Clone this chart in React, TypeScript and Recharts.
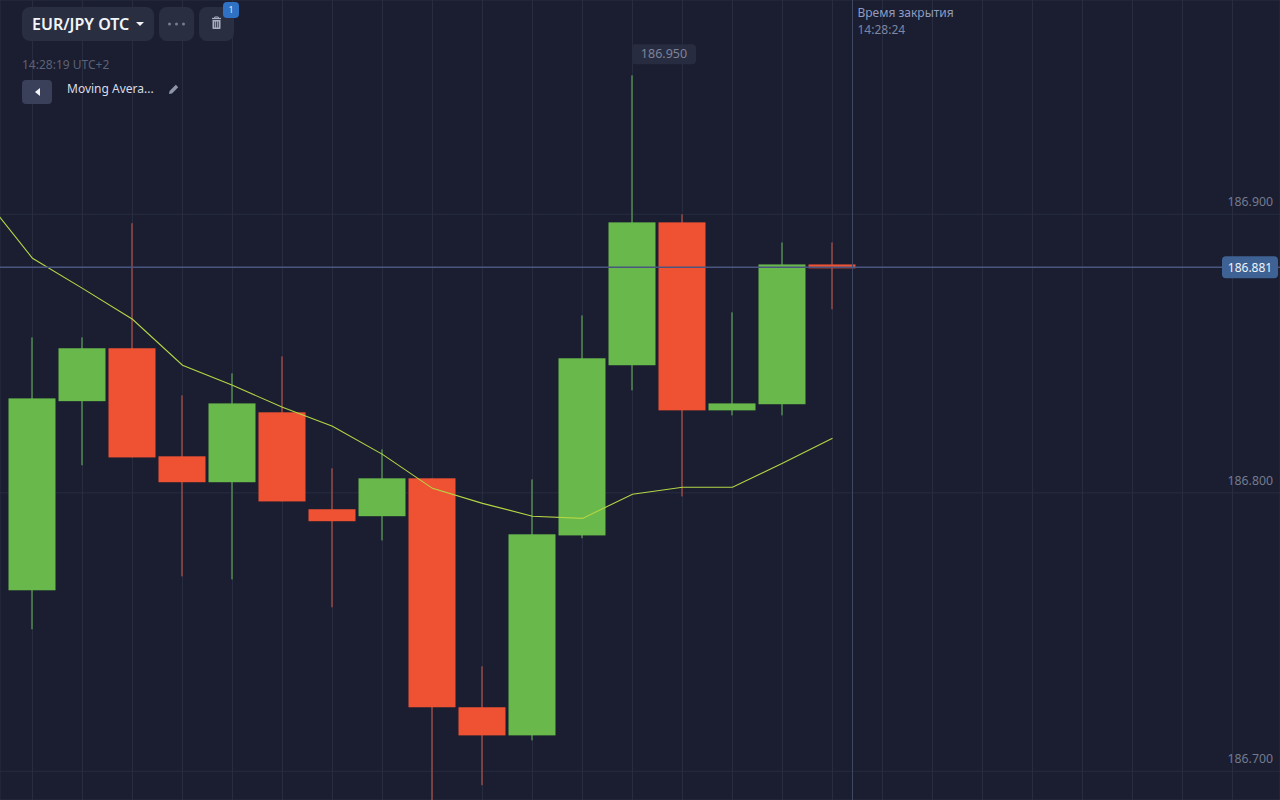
import React from "react";
import { ComposedChart, Bar, Line, XAxis, YAxis, CartesianGrid, ReferenceLine, ReferenceDot } from "recharts";

const indexes = [-1, 0, 1, 2, 3, 4, 5, 6, 7, 8, 9, 10, 11, 12, 13, 14, 15, 16];
const opens = [null, 186.765, 186.8329, 186.8519, 186.8131, 186.8038, 186.8289, 186.7941, 186.7916, 186.8052, 186.723, 186.7129, 186.7847, 186.8458, 186.8971, 186.8296, 186.8318, 186.882];
const closes = [null, 186.8339, 186.8519, 186.8127, 186.8038, 186.8321, 186.7969, 186.7898, 186.8052, 186.723, 186.7129, 186.7851, 186.8483, 186.8971, 186.8296, 186.8321, 186.882, 186.8806];
const highs = [null, 186.8558, 186.8558, 186.8968, 186.835, 186.8429, 186.849, 186.8088, 186.8156, 186.8052, 186.7377, 186.8048, 186.8637, 186.9499, 186.9, 186.8648, 186.8899, 186.8899];
const lows = [null, 186.751, 186.8099, 186.8127, 186.77, 186.7689, 186.7969, 186.7589, 186.7829, 186.686, 186.695, 186.7111, 186.7837, 186.8368, 186.7987, 186.8278, 186.8278, 186.8659];
const movingAverage = [186.9068, 186.8842, 186.8734, 186.8623, 186.8458, 186.8386, 186.8307, 186.8239, 186.8138, 186.8016, 186.7962, 186.7916, 186.7908, 186.7995, 186.802, 186.802, 186.8106, 186.8196];
const gridIndexes = [0, 1, 2, 3, 4, 5, 6, 7, 8, 9, 10, 11, 12, 13, 14, 15, 16, 17, 18, 19, 20, 21, 22, 23, 24];
const priceTicks = [186.7, 186.8, 186.9];
const currentPrice = 186.881;
const closeIndex = 16.4;
const peakPrice = 186.9499;
const peakIndex = 12;

const tableRows = indexes.map((idx, i) => ({
  idx,
  open: opens[i],
  close: closes[i],
  range: highs[i] == null ? null : [lows[i], highs[i]],
  ma: movingAverage[i],
}));

const GREEN = "#68b84b";
const RED = "#ee5233";
const GREEN_WICK = "#528a50";
const RED_WICK = "#984a44";
const FONT = "'Noto Sans', sans-serif";

const Candle = (props: any) => {
  const { x, y, width, height, payload } = props;
  if (!payload || !payload.range) return null;
  const [low, high] = payload.range;
  const perUnit = height / (high - low);
  const up = payload.close >= payload.open;
  const top = y + (high - Math.max(payload.open, payload.close)) * perUnit;
  const bottom = y + (high - Math.min(payload.open, payload.close)) * perUnit;
  const cx = x + width / 2;
  return (
    <g>
      <rect x={cx - 0.75} y={y} width={1.5} height={height} fill={up ? GREEN_WICK : RED_WICK} />
      <rect x={cx - 23.5} y={top} width={47} height={Math.max(bottom - top, 1)} fill={up ? GREEN : RED} />
    </g>
  );
};

const PriceTick = (props: any) => (
  <text x={1273} y={props.y - 8} textAnchor="end" fontFamily={FONT} fontSize={12.3} fill="#757b8f">
    {props.payload.value.toFixed(3)}
  </text>
);

const HiddenTick = () => <g />;

const PriceTag = (props: any) => {
  const y = props.viewBox.y;
  return (
    <g>
      <rect x={1222} y={y - 11} width={56} height={22} rx={4} fill="#3f6294" />
      <text x={1250} y={y + 4.5} textAnchor="middle" fontFamily={FONT} fontSize={12} fill="#f0f3f8">
        {currentPrice.toFixed(3)}
      </text>
    </g>
  );
};

const PeakTag = (props: any) => {
  const { cx, cy } = props;
  return (
    <g>
      <rect x={cx - 0.5} y={cy - 31} width={64} height={20} rx={4} fill="#282c40" />
      <text x={cx + 31.5} y={cy - 17} textAnchor="middle" fontFamily={FONT} fontSize={12.5} fill="#7d8399">
        {peakPrice.toFixed(3)}
      </text>
    </g>
  );
};

const CloseLabel = (props: any) => {
  const x = props.viewBox.x;
  return (
    <g fontFamily={FONT} fontSize={12}>
      <text x={x + 5} y={17} fill="#8f9cc0">Время закрытия</text>
      <text x={x + 5} y={34} fill="#7d86a3">14:28:24</text>
    </g>
  );
};

const box: React.CSSProperties = { position: "absolute", background: "#2a2e41", borderRadius: 8 };

export default function App() {
  return (
    <div style={{ position: "fixed", left: 0, top: 0, width: 1280, height: 800, background: "#1a1e30", overflow: "hidden", fontFamily: FONT }}>
      <ComposedChart width={1281} height={801} data={tableRows} margin={{ top: 0, right: 0, bottom: 0, left: 0 }}>
        <CartesianGrid stroke="#282c40" strokeWidth={1} />
        <XAxis dataKey="idx" type="number" domain={[-0.65, 24.95]} ticks={gridIndexes} interval={0} allowDataOverflow height={1} tick={<HiddenTick />} axisLine={false} tickLine={false} />
        <YAxis type="number" domain={[186.6897, 186.97694]} ticks={priceTicks} interval={0} allowDataOverflow orientation="right" width={1} axisLine={false} tickLine={false} tick={<PriceTick />} />
        <Bar dataKey="range" barSize={47} shape={<Candle />} isAnimationActive={false} />
        <Line dataKey="ma" type="linear" stroke="#b4d645" strokeWidth={1.1} dot={false} activeDot={false} isAnimationActive={false} />
        <ReferenceLine x={closeIndex} stroke="#3f4760" strokeWidth={1} label={<CloseLabel />} />
        <ReferenceLine y={currentPrice} stroke="#4a5680" strokeWidth={1.4} label={<PriceTag />} />
        <ReferenceDot x={peakIndex} y={peakPrice} r={0} shape={<PeakTag />} />
      </ComposedChart>

      <div style={{ ...box, left: 22, top: 7, width: 132, height: 34, color: "#f2f4f8", fontSize: 16, fontWeight: 600, lineHeight: "34px", paddingLeft: 10, boxSizing: "border-box", whiteSpace: "nowrap" }}>
        EUR/JPY OTC
        <svg width="8" height="5" style={{ position: "absolute", left: 114, top: 15 }}><path d="M0 0H8L4 4Z" fill="#f2f4f8" /></svg>
      </div>
      <div style={{ ...box, left: 159, top: 7, width: 35, height: 34 }}>
        <svg width="35" height="34">
          <circle cx="10.5" cy="17" r="1.5" fill="#777d90" />
          <circle cx="17.5" cy="17" r="1.5" fill="#777d90" />
          <circle cx="24.5" cy="17" r="1.5" fill="#777d90" />
        </svg>
      </div>
      <div style={{ ...box, left: 199, top: 7, width: 35, height: 34 }}>
        <svg width="35" height="34">
          <path d="M13 11.5H22" stroke="#aab0c2" strokeWidth="1.3" fill="none" />
          <path d="M15.7 11V10H19.3V11" stroke="#aab0c2" strokeWidth="1" fill="none" />
          <path d="M13.5 13H21.5V21.2Q21.5 22 20.7 22H14.3Q13.5 22 13.5 21.2Z" fill="#aab0c2" />
          <path d="M15.7 14.5V20.5M17.5 14.5V20.5M19.3 14.5V20.5" stroke="#2a2e41" strokeWidth="0.8" />
        </svg>
      </div>
      <div style={{ position: "absolute", left: 223, top: 2, width: 16, height: 16, background: "#2f71c4", borderRadius: 4, color: "#d8e6f8", fontSize: 9, lineHeight: "16px", textAlign: "center" }}>1</div>
      <div style={{ position: "absolute", left: 22, top: 56, fontSize: 12, color: "#5c6277", lineHeight: "17px" }}>14:28:19 UTC+2</div>
      <div style={{ position: "absolute", left: 22, top: 80, width: 30, height: 24, background: "#3a4059", borderRadius: 4 }}>
        <svg width="30" height="24"><path d="M18 8V16L13 12Z" fill="#f2f4f8" /></svg>
      </div>
      <div style={{ position: "absolute", left: 67, top: 80, fontSize: 12, color: "#d9dce6", lineHeight: "17px", whiteSpace: "nowrap" }}>Moving Avera...</div>
      <svg width="12" height="12" style={{ position: "absolute", left: 168, top: 83 }}>
        <path d="M1 11L1.6 8L7.8 1.8L10.2 4.2L4 10.4Z" fill="#8f95a8" />
      </svg>
    </div>
  );
}
